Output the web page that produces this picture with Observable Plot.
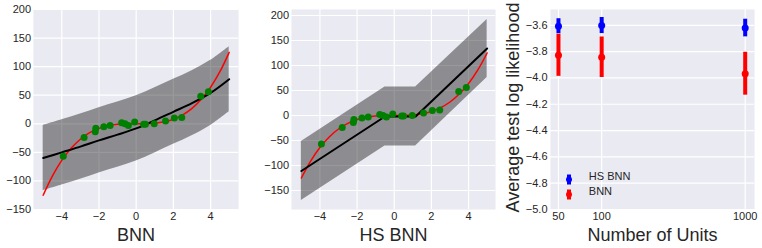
<!DOCTYPE html>
<html>
<head>
<meta charset="utf-8">
<script src="https://cdn.jsdelivr.net/npm/d3@7"></script>
<script src="https://cdn.jsdelivr.net/npm/@observablehq/plot@0.6"></script>
<style>
  html, body { margin: 0; padding: 0; background: white; }
  #row { display: flex; width: 762px; height: 248px; overflow: hidden; }
  #row > svg, #row > figure { flex: none; margin: 0; }
</style>
</head>
<body>
<div id="row"></div>
<script>
// ---------- data ----------
// observed training points (shared by both regression panels)
const pointX = [-3.92, -2.8, -2.2, -2.17, -1.74, -1.4, -0.78, -0.6, -0.42, -0.08, 0.4, 0.5, 0.97, 1.58, 2.05, 2.45, 3.47, 3.88];
const pointY = [-57, -24, -14, -8, -5, -3, 2, 0, -3, 3, -1, -1, 0, 5, 10, 11, 48, 56];

// true function (red)
const trueX = [-5, -4.5, -4, -3.5, -3, -2.5, -2, -1.5, -1, -0.5, 0, 0.5, 1, 1.5, 2, 2.5, 3, 3.5, 4, 4.5, 5];
const trueY = [-125, -91.1, -64, -42.9, -27, -15.6, -8, -3.4, -1, -0.1, 0, 0.1, 1, 3.4, 8, 15.6, 27, 42.9, 64, 91.1, 125];

// BNN predictive mean and band
const bnnX = [-5, -4, -3, -2, -1, 0, 1, 2, 3, 4, 5];
const bnnMean = [-60, -50, -40, -29, -19, -8, 6, 21, 36, 54, 78];
const bnnUpper = [-3, 7, 17, 28, 38, 49, 63, 78, 93, 111, 135];
const bnnLower = [-117, -107, -97, -86, -76, -65, -51, -36, -21, -3, 21];

// HS BNN predictive mean and band
const hsX = [-5, -0.5, 1.15, 5];
const hsMeanLine = [-111, -2, -2, 134];
const hsUpper = [-52, 57, 57, 192];
const hsLower = [-170, -61, -61, 76];

// right panel: average test log likelihood
const units = [50, 100, 1000];
const hsLL = [-3.607, -3.602, -3.621];
const hsLLErr = [0.057, 0.061, 0.067];
const bnnLL = [-3.828, -3.843, -3.968];
const bnnLLErr = [0.16, 0.154, 0.163];

// ticks and labels
const xTicks = [-4, -2, 0, 2, 4];
const yTicksReg = [-150, -100, -50, 0, 50, 100, 150, 200];
const unitTicks = [50, 100, 1000];
const llTicks = [-5.0, -4.8, -4.6, -4.4, -4.2, -4.0, -3.8, -3.6];
const seriesNames = ["HS BNN", "BNN"];
const panelTitles = ["BNN", "HS BNN", "Number of Units"];
const yTitle = "Average test log likelihood";

// ---------- helpers ----------
const BG = "#EAEAF2";
const INK = "#262626";
const FONT = "'Liberation Sans', Arial, Helvetica, sans-serif";
const fmtInt = d3.format("d");
const fmt1 = d3.format(".1f");
const baseStyle = {fontFamily: FONT, fontSize: "11px", color: INK, background: "white", overflow: "visible"};

const points = pointX.map((x, i) => ({x, y: pointY[i]}));
const truth = trueX.map((x, i) => ({x, y: trueY[i]}));
const bnnRows = bnnX.map((x, i) => ({x, m: bnnMean[i], lo: bnnLower[i], hi: bnnUpper[i]}));
const hsRows = hsX.map((x, i) => ({x, m: hsMeanLine[i], lo: hsLower[i], hi: hsUpper[i]}));

function regressionPanel(rows, curve, yDomain, xDomain, ml, mr, title) {
  return Plot.plot({
    width: 254, height: 248,
    marginLeft: ml, marginRight: mr, marginTop: 9, marginBottom: 39,
    x: {domain: xDomain},
    y: {domain: yDomain},
    style: baseStyle,
    marks: [
      Plot.frame({fill: BG, stroke: "none"}),
      Plot.gridX(xTicks, {stroke: "white", strokeOpacity: 1, strokeWidth: 1.2}),
      Plot.gridY(yTicksReg, {stroke: "white", strokeOpacity: 1, strokeWidth: 1.2}),
      Plot.areaY(rows, {x: "x", y1: "lo", y2: "hi", fill: "black", fillOpacity: 0.4, curve}),
      Plot.line(truth, {x: "x", y: "y", stroke: "red", strokeWidth: 1.5, curve: "catmull-rom"}),
      Plot.line(rows, {x: "x", y: "m", stroke: "black", strokeWidth: 2, curve}),
      Plot.dot(points, {x: "x", y: "y", r: 3.5, fill: "green"}),
      Plot.axisX(xTicks, {tickSize: 0, tickPadding: 3, tickFormat: fmtInt, label: null}),
      Plot.axisY(yTicksReg, {tickSize: 0, tickPadding: 2.5, tickFormat: fmtInt, label: null}),
      Plot.text([title], {text: d => d, frameAnchor: "bottom", dy: 31, lineAnchor: "bottom", fontSize: 18, fill: INK})
    ]
  });
}

const handleSymbol = {
  draw(ctx, size) {
    const r = Math.sqrt(size / Math.PI);
    ctx.moveTo(r, 0);
    ctx.arc(0, 0, r, 0, 2 * Math.PI);
    ctx.moveTo(-2, -5);
    ctx.lineTo(2, -5);
    ctx.lineTo(2, 5);
    ctx.lineTo(-2, 5);
    ctx.closePath();
  }
};

function llPanel() {
  const hs = units.map((u, i) => ({u, m: hsLL[i], lo: hsLL[i] - hsLLErr[i], hi: hsLL[i] + hsLLErr[i]}));
  const bn = units.map((u, i) => ({u, m: bnnLL[i], lo: bnnLL[i] - bnnLLErr[i], hi: bnnLL[i] + bnnLLErr[i]}));
  const colors = ["blue", "red"];
  return Plot.plot({
    width: 254, height: 248,
    marginLeft: 42, marginRight: 8, marginTop: 9, marginBottom: 39,
    x: {type: "log", domain: [44, 1161], axis: null},
    y: {domain: [-5.0, -3.48]},
    style: baseStyle,
    marks: [
      Plot.frame({fill: BG, stroke: "none"}),
      Plot.ruleX(unitTicks, {x: d => d, stroke: "white", strokeWidth: 1.2}),
      Plot.gridY(llTicks, {stroke: "white", strokeOpacity: 1, strokeWidth: 1.2}),
      Plot.ruleX(hs, {x: "u", y1: "lo", y2: "hi", stroke: colors[0], strokeWidth: 4}),
      Plot.dot(hs, {x: "u", y: "m", r: 3.5, fill: colors[0]}),
      Plot.ruleX(bn, {x: "u", y1: "lo", y2: "hi", stroke: colors[1], strokeWidth: 4}),
      Plot.dot(bn, {x: "u", y: "m", r: 3.5, fill: colors[1]}),
      // legend
      Plot.dot([0], {frameAnchor: "bottom-left", dx: 18.5, dy: -30, r: 3, symbol: handleSymbol, fill: colors[0]}),
      Plot.dot([0], {frameAnchor: "bottom-left", dx: 18.5, dy: -15, r: 3, symbol: handleSymbol, fill: colors[1]}),
      Plot.text([seriesNames[0]], {text: d => d, frameAnchor: "bottom-left", dx: 38.3, dy: -30, textAnchor: "start", fontSize: 11, fill: INK}),
      Plot.text([seriesNames[1]], {text: d => d, frameAnchor: "bottom-left", dx: 38.3, dy: -15, textAnchor: "start", fontSize: 11, fill: INK}),
      // x tick labels
      Plot.text(unitTicks, {x: d => d, text: d => fmtInt(d), frameAnchor: "bottom", dy: 3, lineAnchor: "top", textAnchor: "middle", fontSize: 11, fill: INK}),
      Plot.axisY(llTicks, {tickSize: 0, tickPadding: 3, tickFormat: fmt1, label: null}),
      Plot.text([panelTitles[2]], {text: d => d, frameAnchor: "bottom", dy: 31, lineAnchor: "bottom", fontSize: 18, fill: INK}),
      Plot.text([yTitle], {text: d => d, frameAnchor: "left", rotate: -90, dx: -31.5, dy: -2, lineAnchor: "bottom", textAnchor: "middle", fontSize: 18, fill: INK})
    ]
  });
}

const row = document.getElementById("row");
row.append(
  regressionPanel(bnnRows, "catmull-rom", [-150, 200], [-5.52, 5.5], 33, 16, panelTitles[0]),
  regressionPanel(hsRows, "linear", [-188, 212], [-5.53, 5.45], 37, 13, panelTitles[1]),
  llPanel()
);
</script>
</body>
</html>
